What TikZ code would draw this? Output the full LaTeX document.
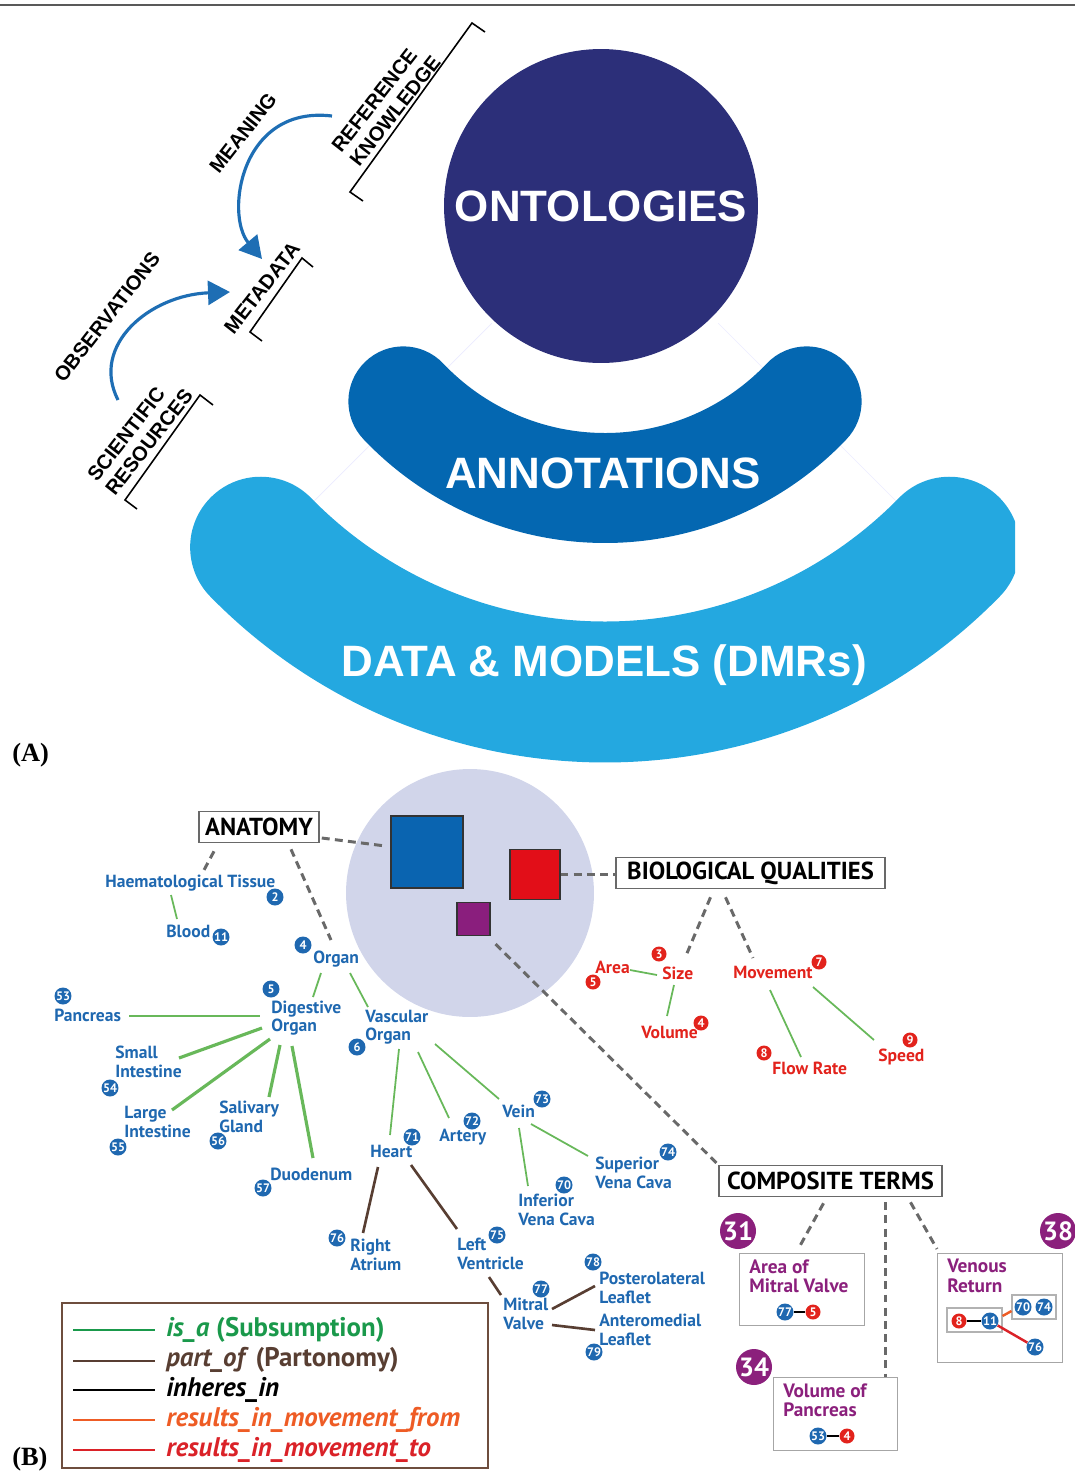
\documentclass[tikz,border=0pt]{standalone}
\usepackage{fontspec}
\setmainfont{Liberation Serif}
\newfontfamily\blockfont{Liberation Sans}
\newfontfamily\labelfont{PT Sans}
\usetikzlibrary{arrows.meta,calc}

\definecolor{ontoblue}{RGB}{44,47,121}
\definecolor{annoblue}{RGB}{4,103,177}
\definecolor{datablue}{RGB}{36,168,224}
\definecolor{arrowblue}{RGB}{30,110,180}
\definecolor{lenscol}{RGB}{209,213,234}
\definecolor{anablue}{RGB}{31,104,176}
\definecolor{qualred}{RGB}{226,35,28}
\definecolor{termpurple}{RGB}{139,32,124}
\definecolor{isagreen}{RGB}{104,184,90}
\definecolor{legendgreen}{RGB}{26,153,75}
\definecolor{partbrown}{RGB}{88,62,50}
\definecolor{fromorange}{RGB}{238,92,37}
\definecolor{tored}{RGB}{218,34,40}
\definecolor{dashgray}{RGB}{105,105,105}
\definecolor{framebrown}{RGB}{110,78,62}
\definecolor{sqblue}{RGB}{10,100,176}
\definecolor{sqred}{RGB}{226,14,24}
\definecolor{sqpurple}{RGB}{138,30,125}

\begin{document}
\begin{tikzpicture}[x=0.02cm, y=-0.02cm,
  bandtxt/.style={font=\blockfont\bfseries\fontsize{25}{25}\selectfont, text=white},
  tag/.style={font=\blockfont\bfseries\fontsize{11.5}{13}\selectfont, rotate=52, align=left, inner sep=0},
  flowarrow/.style={arrowblue, line width=1.8pt, -{Triangle[length=0.44cm, width=0.48cm]}},
  bracket/.style={black, line width=0.9pt},
  hdrbox/.style={draw=dashgray, line width=0.9pt, fill=white, minimum height=0.62cm, inner sep=0,
    font=\labelfont\bfseries\fontsize{14}{14}\selectfont},
  ana/.style={font=\labelfont\bfseries\fontsize{10}{10.5}\selectfont, text=anablue, align=left, anchor=west, inner sep=0},
  qual/.style={ana, text=qualred},
  nb/.style={circle, fill=anablue, text=white, inner sep=0, minimum size=0.34cm,
    font=\labelfont\bfseries\fontsize{7}{7}\selectfont},
  rb/.style={nb, fill=qualred, minimum size=0.3cm},
  pb/.style={circle, fill=termpurple, text=white, inner sep=0, minimum size=0.72cm,
    font=\labelfont\bfseries\fontsize{15}{15}\selectfont},
  isa/.style={isagreen, line width=1pt},
  isab/.style={isagreen, line width=1.8pt},
  partof/.style={partbrown, line width=1.5pt},
  dsh/.style={dashgray, line width=1.7pt, dash pattern=on 4.5pt off 3pt},
  termbox/.style={draw=gray!70, line width=0.8pt, anchor=north west, inner sep=0},
  termtxt/.style={font=\labelfont\bfseries\fontsize{11}{11}\selectfont, text=termpurple, align=left, anchor=west, inner sep=0},
  legendtxt/.style={font=\labelfont\bfseries\fontsize{15.3}{16}\selectfont, anchor=west, inner sep=0}]

\useasboundingbox (0,0) rectangle (1075,1471);
\draw[gray!70!black, line width=1pt] (0,5) -- (1075,5);

% (A) layers
\draw[blue!8, line width=0.4pt] (605,210) ++(135:160) -- ++(135:260);
\draw[blue!8, line width=0.4pt] (605,210) ++(45:160) -- ++(45:260);

\begin{scope}
\clip (0,0) rectangle (1015,800);
\draw[datablue, line width=2.82cm, line cap=round] (605,210) ++(135.6:482) arc[start angle=135.6, end angle=44.4, radius=482];
\end{scope}
\draw[annoblue, line width=2.2cm, line cap=round] (605,210) ++(136.5:278) arc[start angle=136.5, end angle=43.5, radius=278];

\node[circle, fill=ontoblue, minimum size=6.28cm, inner sep=0, bandtxt] (onto) at (601,206) {ONTOLOGIES};
\node[bandtxt] (annot) at (603,473) {ANNOTATIONS};
\node[bandtxt] (datat) at (604,665) {DATA \& MODELS (DMRs)};

\node[tag] (meaning) at (243,133) {MEANING};
\node[tag] (refk) at (386,104) {REFERENCE\\KNOWLEDGE};
\node[tag] (meta) at (262,288) {METADATA};
\node[tag] (obs) at (107,317) {OBSERVATIONS};
\node[tag] (sci) at (140,435) {SCIENTIFIC\\RESOURCES};

\draw[bracket] (363,201) -- (350,192) -- (472,23) -- (485,32);
\draw[bracket] (262,341) -- (250,332) -- (302,258) -- (313,267);
\draw[bracket] (137,509) -- (125,500) -- (200,395) -- (213,405);

\coordinate (mfrom) at (332,116);
\coordinate (mto) at (262,259);
\draw[flowarrow] (mfrom) .. controls (240,105) and (225,215) .. (mto);
\coordinate (ofrom) at (118,400);
\coordinate (oto) at (230,292);
\draw[flowarrow] (ofrom) .. controls (90,345) and (150,295) .. (oto);

\node[font=\bfseries\fontsize{15}{15}\selectfont, anchor=west, inner sep=0] (pa) at (12,755) {(A)};

% (B) terms
\node[circle, fill=lenscol, minimum size=4.96cm, inner sep=0] (lens) at (470,893) {};
\node[draw=black!80, fill=sqblue, line width=0.6pt, minimum size=1.44cm, inner sep=0] (sqa) at (427,852) {};
\node[draw=black!80, fill=sqred, line width=0.6pt, minimum size=1cm, inner sep=0] (sqq) at (535,874.5) {};
\node[draw=black!80, fill=sqpurple, line width=0.6pt, minimum size=0.66cm, inner sep=0] (sqc) at (473.5,919) {};

\node[hdrbox, minimum width=2.4cm] (anat) at (259,827) {ANATOMY};
\node[hdrbox, minimum width=5.38cm] (bioq) at (750.5,873) {BIOLOGICAL QUALITIES};
\node[hdrbox, minimum width=4.46cm] (comp) at (830.5,1181) {COMPOSITE TERMS};

\node[ana] (haem) at (105,883) {Haematological Tissue};
\node[nb] (n2) at (275,897) {2};
\node[ana] (blood) at (166,931) {Blood};
\node[nb] (n11) at (221,937) {11};
\node[ana] (organ) at (313,959) {Organ};
\node[nb] (n4) at (303,945) {4};
\node[ana] (dig) at (271,1018) {Digestive\\Organ};
\node[nb] (n5) at (271,989) {5};
\node[ana] (vasc) at (365,1027) {Vascular\\Organ};
\node[nb] (n6) at (357,1047) {6};
\node[ana] (panc) at (54,1015) {Pancreas};
\node[nb] (n53) at (63,996) {53};
\node[ana] (small) at (115,1062) {Small\\Intestine};
\node[nb] (n54) at (110,1088) {54};
\node[ana] (large) at (124,1122) {Large\\Intestine};
\node[nb] (n55) at (118,1147) {55};
\node[ana] (saliv) at (219,1117) {Salivary\\Gland};
\node[nb] (n56) at (218,1141) {56};
\node[ana] (duod) at (270,1174) {Duodenum};
\node[nb] (n57) at (263,1188) {57};
\node[ana] (heart) at (370,1151) {Heart};
\node[nb] (n71) at (412,1137) {71};
\node[ana] (artery) at (439,1137) {Artery};
\node[nb] (n72) at (472,1121) {72};
\node[ana] (vein) at (502,1111) {Vein};
\node[nb] (n73) at (542,1099) {73};
\node[ana] (sup) at (595,1173) {Superior\\Vena Cava};
\node[nb] (n74) at (668,1152) {74};
\node[ana] (inf) at (518,1210) {Inferior\\Vena Cava};
\node[nb] (n70) at (564,1185) {70};
\node[ana] (ratr) at (350,1255) {Right\\Atrium};
\node[nb] (n76) at (337,1238) {76};
\node[ana] (lven) at (457,1254) {Left\\Ventricle};
\node[nb] (n75) at (497,1235) {75};
\node[ana] (mitral) at (503,1314) {Mitral\\Valve};
\node[nb] (n77) at (541,1289) {77};
\node[ana] (postl) at (599,1288) {Posterolateral\\Leaflet};
\node[nb] (n78) at (593,1262) {78};
\node[ana] (antm) at (599,1330) {Anteromedial\\Leaflet};
\node[nb] (n79) at (594,1352) {79};

\node[qual] (area) at (595,967) {Area};
\node[rb] (q5) at (593,982) {5};
\node[qual] (size) at (662,973) {Size};
\node[rb] (q3) at (659,954) {3};
\node[qual] (vol) at (641,1032) {Volume};
\node[rb] (q4) at (701,1023) {4};
\node[qual] (move) at (733,972) {Movement};
\node[rb] (q7) at (819,962) {7};
\node[qual] (flowr) at (772,1068) {Flow Rate};
\node[rb] (q8) at (764,1053) {8};
\node[qual] (speed) at (878,1057) {Speed};
\node[rb] (q9) at (910,1040) {9};

\draw[dsh] ($(anat.east)+(2,11)$) -- ($(sqa.west)+(-5,-6)$);
\draw[dsh] (sqq.east) -- (sqq.east -| bioq.west);
\draw[dsh] ($(sqc.south east)+(5,8)$) -- (comp.north west);
\draw[dsh] ($(anat.south)+(-45,8)$) -- ($(haem.west)+(99,-13)$);
\draw[dsh] ($(anat.south)+(32,6)$) -- ($(organ.west)+(18,-19)$);
\draw[dsh] ($(bioq.south)+(-40,8)$) -- ($(size.west)+(23,-15)$);
\draw[dsh] ($(bioq.south)+(-25,8)$) -- ($(move.west)+(20,-14)$);

\draw[isa] ($(haem.west)+(66,12)$) -- ($(blood.west)+(11,-12)$);
\draw[isa] ($(organ.west)+(8,14)$) -- ($(dig.west)+(42,-21)$);
\draw[isa] ($(organ.west)+(37,14)$) -- ($(vasc.west)+(3,-20)$);
\draw[isa] ($(panc.west)+(75,1)$) -- ($(dig.west)+(-11,-2)$);
\draw[isab] ($(dig.west)+(-9,10)$) -- ($(small.west)+(64,-4)$);
\draw[isab] ($(dig.west)+(-1,21)$) -- ($(large.west)+(48,-12)$);
\draw[isab] ($(dig.west)+(9,27)$) -- ($(saliv.west)+(50,-20)$);
\draw[isab] ($(dig.west)+(21,28)$) -- ($(duod.west)+(43,-16)$);
\draw[isa] ($(vasc.west)+(34,22)$) -- ($(heart.west)+(20,-16)$);
\draw[isa] ($(vasc.west)+(53,25)$) -- ($(artery.west)+(10,-19)$);
\draw[isa] ($(vasc.west)+(70,17)$) -- ($(vein.west)+(-3,-12)$);
\draw[isa] ($(vein.west)+(17,17)$) -- ($(inf.west)+(10,-24)$);
\draw[isa] ($(vein.west)+(29,13)$) -- ($(sup.west)+(-7,-17)$);
\draw[partof] ($(heart.west)+(8,16)$) -- ($(ratr.west)+(13,-22)$);
\draw[partof] ($(heart.west)+(41,14)$) -- ($(lven.west)+(0,-25)$);
\draw[partof] ($(lven.west)+(32,23)$) -- ($(mitral.west)+(-2,-19)$);
\draw[partof] ($(mitral.west)+(49,-5)$) -- ($(postl.west)+(-4,-2)$);
\draw[partof] ($(mitral.west)+(49,11)$) -- ($(antm.west)+(-4,0)$);

\draw[isa] ($(area.west)+(35,3)$) -- ($(size.west)+(-5,2)$);
\draw[isa] ($(size.west)+(12,12)$) -- ($(vol.west)+(26,-16)$);
\draw[isa] ($(move.west)+(37,18)$) -- ($(flowr.west)+(29,-11)$);
\draw[isa] ($(move.west)+(80,15)$) -- ($(speed.west)+(-4,-17)$);

% composite terms
\node[termbox, minimum width=2.5cm, minimum height=1.44cm] (amv) at (739,1253) {};
\node[termbox, minimum width=2.48cm, minimum height=1.46cm] (vop) at (773,1377) {};
\node[termbox, minimum width=2.5cm, minimum height=2.18cm] (ven) at (937,1253) {};

\draw[dsh] ($(comp.south)+(-7,6)$) -- ($(amv.north)+(-4,-4)$);
\draw[dsh] ($(comp.south)+(55,5)$) coordinate (vtop) -- (vtop |- vop.north);
\draw[dsh] ($(comp.south)+(80,5)$) -- ($(ven.north west)+(0,-4)$);

\node[pb] (p31) at (738,1231) {31};
\node[pb] (p34) at (754,1367) {34};
\node[pb] (p38) at (1058,1231) {38};

\node[termtxt] (amvt) at (749,1276) {Area of\\Mitral Valve};
\node[nb] (m77) at (785,1312) {77};
\node[rb] (m5) at (813,1312) {5};
\draw[black, line width=1.2pt] (m77) -- (m5);

\node[termtxt] (vopt) at (783,1400) {Volume of\\Pancreas};
\node[nb] (m53) at (818,1436) {53};
\node[rb] (m4) at (847,1436) {4};
\draw[black, line width=1.2pt] (m53) -- (m4);

\node[termtxt] (vent) at (947,1276) {Venous\\Return};
\node[draw=gray!60, line width=0.6pt, minimum width=1.1cm, minimum height=0.48cm, inner sep=0] (vin) at (974.5,1320) {};
\node[draw=gray!60, line width=0.6pt, minimum width=0.88cm, minimum height=0.48cm, inner sep=0] (vout) at (1034,1307) {};
\node[rb] (v8) at (959,1321) {8};
\node[nb] (v11) at (990,1321) {11};
\node[nb] (v70) at (1023,1307) {70};
\node[nb] (v74) at (1044,1307) {74};
\node[nb] (v76) at (1035,1347) {76};
\draw[black, line width=1.2pt] (v8) -- (v11);
\draw[fromorange, line width=1.4pt] ($(vin.east)+(0,-4)$) -- ($(vout.west)+(0,4)$);
\draw[tored, line width=1.4pt] (v11) -- (v76);

% legend
\node[draw=framebrown, line width=1.2pt, anchor=north west, minimum width=8.52cm, minimum height=3.3cm, inner sep=0] (legend) at (61,1302) {};
\draw[legendgreen, line width=1.6pt] (73,1330) -- (155,1330);
\draw[partbrown, line width=1.6pt] (73,1361) -- (155,1361);
\draw[black, line width=1.6pt] (73,1390) -- (155,1390);
\draw[fromorange, line width=1.6pt] (73,1420) -- (155,1420);
\draw[tored, line width=1.6pt] (73,1450) -- (155,1450);
\node[legendtxt, text=legendgreen] (k1) at (166,1330) {\textit{is\_a} (Subsumption)};
\node[legendtxt, text=partbrown] (k2) at (166,1360) {\textit{part\_of} (Partonomy)};
\node[legendtxt, text=black] (k3) at (166,1390) {\textit{inheres\_in}};
\node[legendtxt, text=fromorange] (k4) at (166,1420) {\textit{results\_in\_movement\_from}};
\node[legendtxt, text=tored] (k5) at (166,1450) {\textit{results\_in\_movement\_to}};

\node[font=\bfseries\fontsize{15}{15}\selectfont, anchor=west, inner sep=0] (pb) at (12,1459) {(B)};

\end{tikzpicture}
\end{document}
